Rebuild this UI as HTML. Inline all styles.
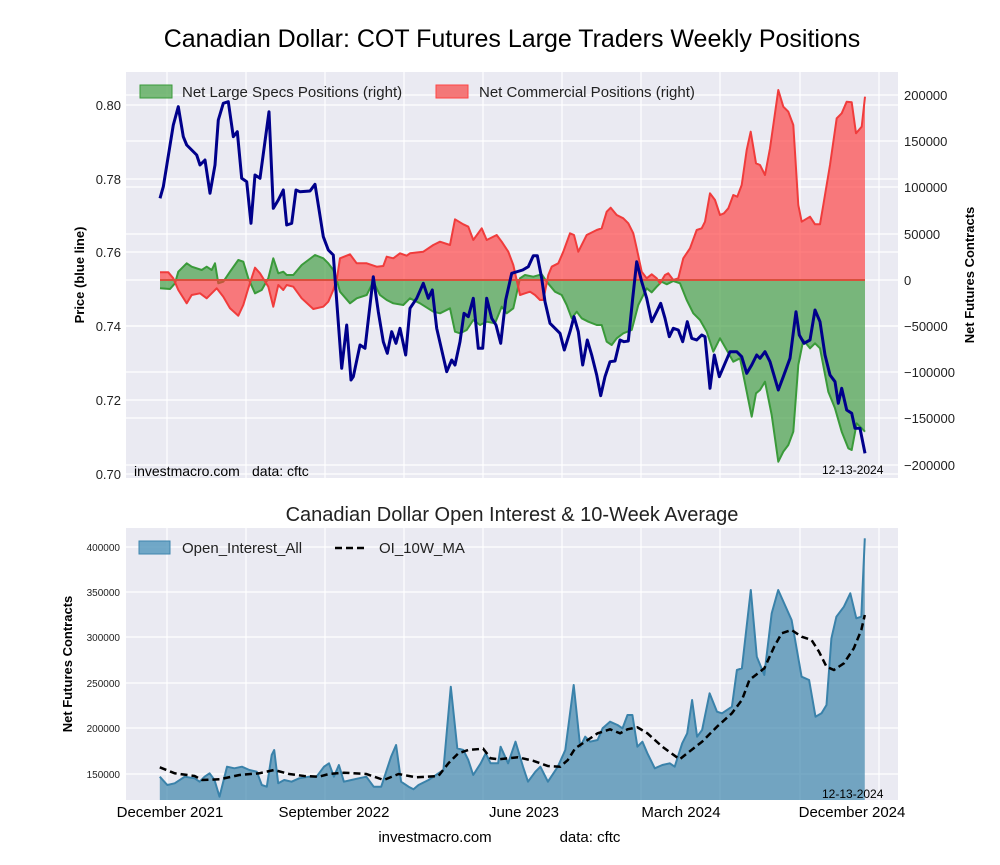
<!DOCTYPE html>
<html><head><meta charset="utf-8"><style>
body{margin:0;background:#fff;}
svg text{font-family:"Liberation Sans",Arial,sans-serif;}
</style></head><body>
<svg id="s" width="1000" height="860" xmlns="http://www.w3.org/2000/svg">
<rect width="1000" height="860" fill="#fff"/>
<text x="512" y="47" font-size="25" text-anchor="middle" fill="#000">Canadian Dollar: COT Futures Large Traders Weekly Positions</text>
<rect x="126" y="72" width="772" height="406" fill="#eaeaf2"/>
<g id="tg" stroke="#fff" stroke-width="1.2"></g>
<g id="tdata"></g>
<rect x="126" y="528" width="772" height="272" fill="#eaeaf2"/>
<g id="bg" stroke="#fff" stroke-width="1.2"></g>
<g id="bdata"></g>
<g font-size="13" fill="#222" text-anchor="end">
<text x="121" y="110">0.80</text><text x="121" y="184">0.78</text><text x="121" y="257">0.76</text>
<text x="121" y="331">0.74</text><text x="121" y="405">0.72</text><text x="121" y="479">0.70</text>
</g>
<g font-size="13" fill="#222">
<text x="904" y="100">200000</text><text x="904" y="146">150000</text><text x="904" y="192">100000</text>
<text x="904" y="239">50000</text><text x="904" y="285">0</text><text x="904" y="331">−50000</text>
<text x="904" y="377">−100000</text><text x="904" y="423">−150000</text><text x="904" y="470">−200000</text>
</g>
<text transform="translate(84,275) rotate(-90)" font-size="13" font-weight="bold" text-anchor="middle">Price (blue line)</text>
<text transform="translate(974,275) rotate(-90)" font-size="13" font-weight="bold" text-anchor="middle">Net Futures Contracts</text>
<text x="134" y="476" font-size="14">investmacro.com</text>
<text x="252" y="476" font-size="14">data: cftc</text>
<text x="822" y="474" font-size="12">12-13-2024</text>
<rect x="140" y="85" width="32" height="13" fill="#5aab5a" fill-opacity=".8" stroke="#3a9a3a"/>
<text x="182" y="97" font-size="15" fill="#222">Net Large Specs Positions (right)</text>
<rect x="436" y="85" width="32" height="13" fill="#f46a6a" fill-opacity=".9" stroke="#f44"/>
<text x="479" y="97" font-size="15" fill="#222">Net Commercial Positions (right)</text>

<text x="512" y="521" font-size="20" text-anchor="middle" fill="#222">Canadian Dollar Open Interest &amp; 10-Week Average</text>
<g font-size="10" fill="#222" text-anchor="end">
<text x="120" y="551">400000</text><text x="120" y="596">350000</text><text x="120" y="641">300000</text>
<text x="120" y="687">250000</text><text x="120" y="732">200000</text><text x="120" y="778">150000</text>
</g>
<text transform="translate(72,664) rotate(-90)" font-size="13" font-weight="bold" text-anchor="middle">Net Futures Contracts</text>
<g font-size="15" fill="#000" text-anchor="middle">
<text x="170" y="817">December 2021</text><text x="334" y="817">September 2022</text>
<text x="524" y="817">June 2023</text><text x="681" y="817">March 2024</text><text x="852" y="817">December 2024</text>
</g>
<text x="822" y="798" font-size="12">12-13-2024</text>
<rect x="139" y="541" width="31" height="13" fill="#5b9bc0" fill-opacity=".85" stroke="#3f86ad"/>
<text x="182" y="553" font-size="15" fill="#222">Open_Interest_All</text>
<line x1="335" y1="548" x2="368" y2="548" stroke="#000" stroke-width="2.5" stroke-dasharray="7,4"/>
<text x="379" y="553" font-size="15" fill="#222">OI_10W_MA</text>
<text x="435" y="842" font-size="15" text-anchor="middle">investmacro.com</text>
<text x="590" y="842" font-size="15" text-anchor="middle">data: cftc</text>
</svg>
<script>
var NS="http://www.w3.org/2000/svg";
function el(p,t,a){var e=document.createElementNS(NS,t);for(var k in a)e.setAttribute(k,a[k]);document.getElementById(p).appendChild(e);return e;}
var vx=[167,246,325,404,483,562,641,720,800,879];
vx.forEach(function(x){el("tg","line",{x1:x,y1:72,x2:x,y2:478});el("bg","line",{x1:x,y1:528,x2:x,y2:800});});
[105,179,252,326,400,474,95,141,187,234,280,326,372,418,465].forEach(function(y){el("tg","line",{x1:126,y1:y,x2:898,y2:y});});
[547,592,637,683,728,774].forEach(function(y){el("bg","line",{x1:126,y1:y,x2:898,y2:y});});
function cv(a,ox,oy,sx,sy){var r=[];for(var i=0;i<a.length;i+=2)r.push([ox+a[i]/sx,oy+a[i+1]/sy]);return r;}
function ps(p){return p.map(function(q){return q[0].toFixed(1)+","+q[1].toFixed(1)}).join(" ");}
var g1=[120,670,150,672,165,655,175,620,200,595,215,605,245,615,260,605,275,615,285,595,295,655,310,650,330,620,355,585,370,590,385,640,405,685,425,675,445,640,460,580,475,625,490,620,500,630,520,630,545,600,585,570,610,580,625,595,640,615,650,645,660,680,690,715,710,700,740,690,760,650,780,690,800,705,820,715,850,720,870,700,900,715,940,740,960,745,990,730,1005,800,1020,805,1040,795,1060,765,1080,780,1100,770,1125,775,1145,725,1160,745,1180,730];
var g2=[0,725,20,745,45,738,60,640,75,630,100,635,125,628,140,650,165,680,185,690,200,720,215,760,230,740,245,760,265,770,290,780,305,780,320,830,335,840,350,820,370,805,395,795,415,720,440,670,455,682,470,665,485,650,500,658,520,648,540,655,560,705,580,745,600,765,620,800,640,860,660,820,680,855,700,890,720,880,740,980,755,1055,768,985,780,975,795,950,815,1050,835,1190,850,1160,865,1140,880,1100,895,900,910,825,930,850,945,835,960,850,985,980,1005,1030,1025,1100,1045,1150,1055,1155,1070,1075,1085,1090,1095,1100];
var r1=[120,622,145,622,160,640,175,675,200,715,215,690,240,685,260,700,290,670,310,695,330,730,355,752,370,720,385,670,405,608,420,625,445,665,460,725,475,660,490,675,500,660,520,665,545,700,580,732,610,725,625,710,640,675,650,645,660,580,690,568,710,595,740,595,770,605,790,603,800,575,820,580,840,565,860,572,870,565,910,560,940,540,960,530,990,540,1005,463,1030,478,1045,485,1060,525,1085,490,1100,525,1130,510,1145,530,1165,560,1180,600];
var r2=[0,530,20,540,40,580,50,640,60,690,75,685,90,680,105,690,120,705,130,705,145,630,155,605,175,595,190,560,210,505,222,510,235,560,260,510,290,495,305,490,320,440,332,428,350,450,370,460,385,475,400,505,410,550,425,620,440,640,455,628,470,640,480,655,495,630,505,625,520,645,535,640,550,580,570,550,590,495,605,490,615,470,630,385,645,405,660,450,672,445,685,430,700,390,712,395,725,360,740,255,752,200,768,295,780,300,795,330,810,250,835,75,850,125,865,140,880,180,895,420,905,470,930,455,945,478,960,478,970,420,990,300,1010,160,1025,145,1040,110,1055,112,1068,205,1085,185,1095,95];
var p1=[120,400,130,365,160,180,175,125,190,215,200,240,215,255,230,270,240,300,255,285,270,385,285,300,295,165,310,115,325,110,340,215,352,200,365,340,380,350,393,475,405,330,420,340,447,140,460,430,475,405,490,375,500,480,515,475,528,375,540,380,570,378,585,358,595,420,610,515,625,555,640,570,665,910,680,780,693,945,700,935,720,840,735,850,760,635,775,740,790,830,802,865,815,800,828,835,840,790,857,870,870,730,890,700,910,655,925,700,937,675,950,790,980,920,995,885,1005,900,1020,830,1032,745,1045,755,1060,700,1075,850,1088,850,1100,700,1115,760,1128,780,1142,835,1157,705,1175,625];
var p2=[0,835,20,720,40,640,55,572,68,615,85,605,100,572,112,572,125,640,135,710,150,775,165,790,180,805,193,855,210,800,222,755,235,800,248,900,262,825,275,870,290,930,302,992,315,935,330,890,345,888,360,825,372,830,385,828,398,700,410,590,425,650,440,700,455,770,470,740,482,715,495,760,508,815,520,790,535,795,548,830,562,770,575,820,590,825,605,810,615,815,630,970,643,870,658,935,675,895,690,860,710,860,725,875,740,925,755,900,770,870,780,880,795,860,810,890,835,975,850,935,870,880,888,740,898,810,912,835,930,825,945,735,960,770,975,870,990,930,1005,950,1015,1015,1025,970,1040,1035,1055,1045,1065,1090,1080,1090,1095,1165];
function fillArea(pg,pts,fill,stroke,y0,fo){
 var a=pts.slice();var d="M"+a[0][0]+","+y0+" L"+ps(a).split(" ").join(" L")+" L"+a[a.length-1][0]+","+y0+" Z";
 el(pg,"path",{d:d,fill:fill,"fill-opacity":fo,stroke:"none"});
 el(pg,"polyline",{points:ps(a),fill:"none",stroke:stroke,"stroke-width":2,"stroke-linejoin":"round"});
}
var G=cv(g1,120,65,3,3).concat(cv(g2,500,65,3,3).filter(function(q){return q[0]>=520;}));
var R=cv(r1,120,65,3,3).concat(cv(r2,500,65,3,3).filter(function(q){return q[0]>=520;}));
var P=cv(p1,120,65,3,3).concat(cv(p2,500,65,3,3).filter(function(q){return q[0]>=520;}));
fillArea("tdata",G,"#3a9a3a","#3a9a3a",280,0.65);
fillArea("tdata",R,"#ff3b3b","#f03c3c",280,0.65);
el("tdata","line",{x1:G[0][0],y1:280,x2:865,y2:280,stroke:"#d9503c","stroke-width":2});
el("tdata","polyline",{points:ps(P),fill:"none",stroke:"#00008b","stroke-width":3,"stroke-linejoin":"round"});
var oi=[80,770,95,795,110,790,130,770,150,775,160,785,170,770,180,760,190,780,200,830,215,740,230,745,245,740,260,750,275,755,285,795,295,800,305,705,310,690,318,790,330,780,345,785,360,775,380,770,395,770,410,740,420,730,430,770,440,735,450,785,465,780,480,775,495,770,510,800,525,800,545,710,555,675,565,785,580,800,590,808,600,795,620,780,640,760,650,750,665,500,678,685,690,690,700,720,710,765,725,730,735,700,745,730,760,730,765,680,780,730,795,665,810,740,820,785,835,755,845,740,860,785,880,740,895,690,912,495,925,680,935,650,945,665,960,660,970,625,985,605,1000,615,1010,625,1020,585,1030,585,1040,680,1050,665,1060,700,1075,745,1090,735,1105,730,1115,740,1130,670,1140,640,1150,540,1160,650,1170,630,1185,520,1200,575,1210,580,1230,560,1240,450,1250,445,1268,210,1280,410,1295,465,1310,280,1323,210,1350,300,1370,470,1385,480,1398,590,1410,580,1420,555,1430,355,1440,290,1455,260,1468,220,1480,295,1490,290,1497,55];
var ma=[80,742,110,760,150,768,165,780,200,778,240,765,280,760,310,750,340,762,370,768,400,770,420,762,450,758,495,762,530,780,560,762,595,772,640,768,660,730,680,700,700,690,730,686,745,715,760,718,800,712,830,722,860,738,885,740,900,720,915,685,940,660,960,640,985,628,1005,640,1020,628,1040,622,1060,640,1090,680,1125,718,1140,700,1170,665,1200,620,1230,580,1250,540,1265,480,1295,445,1315,380,1330,340,1350,330,1370,350,1390,360,1405,395,1420,440,1435,450,1455,430,1475,385,1490,330,1497,285];
var O=cv(oi,120,520,2.01,3);
var pd="M"+O[0][0]+",800 L"+ps(O).split(" ").join(" L")+" L"+O[O.length-1][0]+",800 Z";
el("bdata","path",{d:pd,fill:"#3f86ad","fill-opacity":0.7});
el("bdata","polyline",{points:ps(O),fill:"none",stroke:"#3a82aa","stroke-width":2,"stroke-linejoin":"round"});
el("bdata","polyline",{points:ps(cv(ma,120,520,2.01,3)),fill:"none",stroke:"#000","stroke-width":2.5,"stroke-dasharray":"7,4"});
</script>
</body></html>
